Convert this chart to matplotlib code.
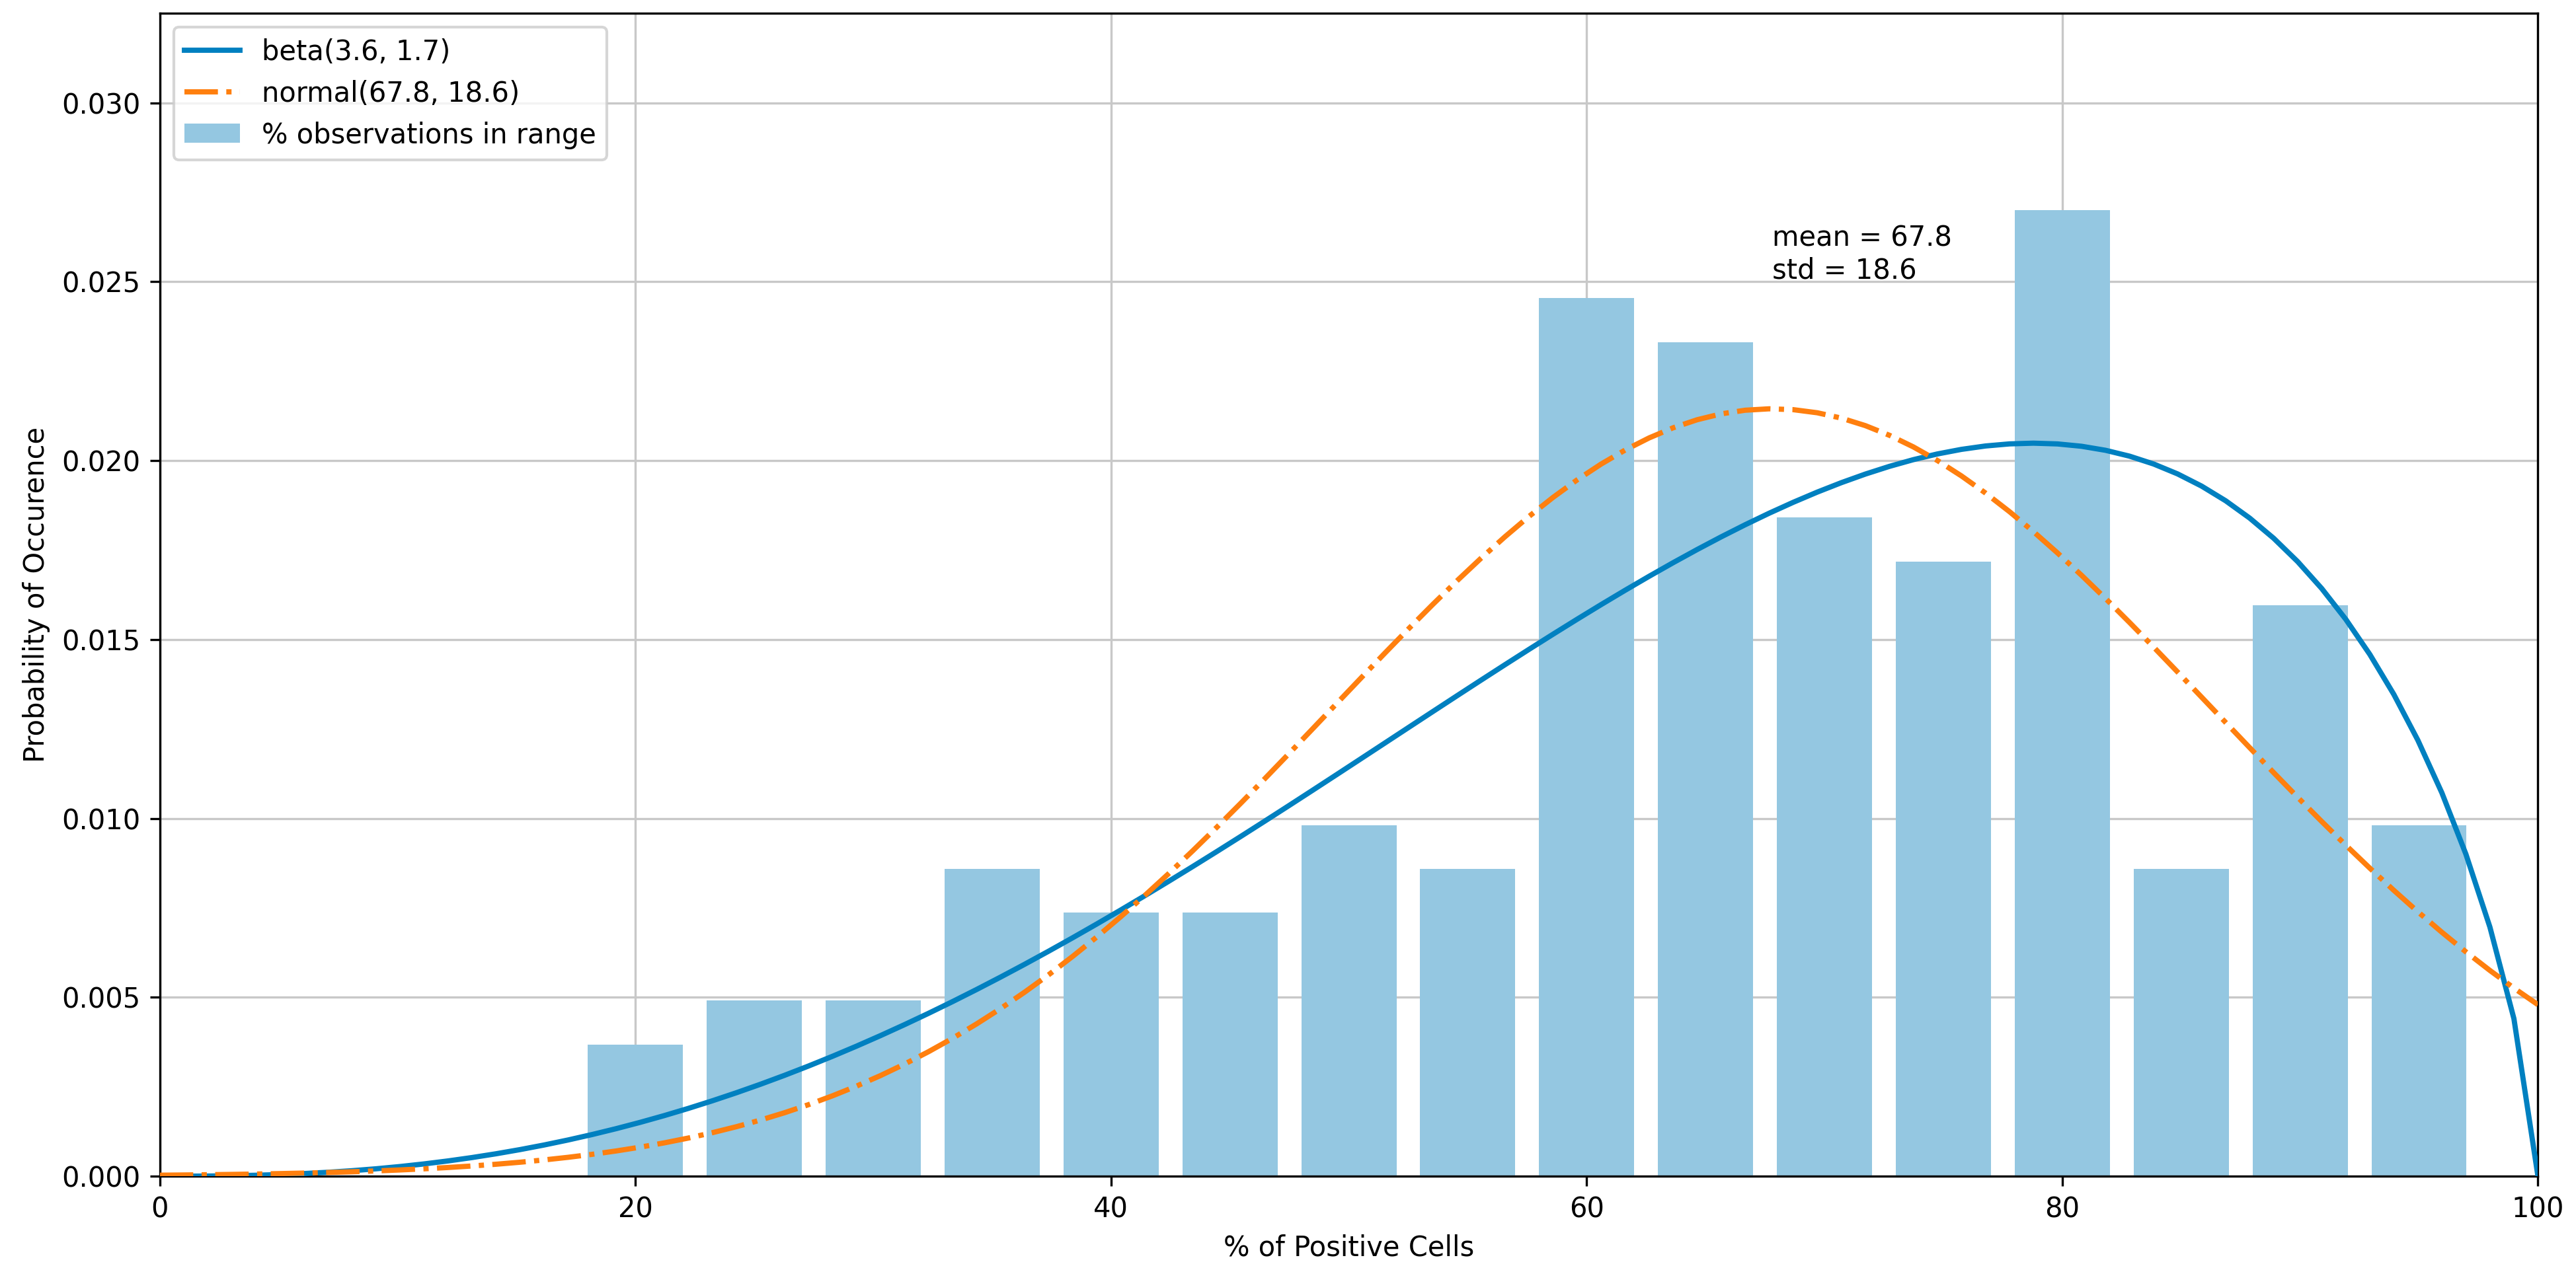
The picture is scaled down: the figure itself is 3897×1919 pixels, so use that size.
import math
import numpy as np
import matplotlib
matplotlib.use("Agg")
import matplotlib.pyplot as plt

# Histogram data (bin centres, density values = count / (163 * 5))
bin_centers = [20, 25, 30, 35, 40, 45, 50, 55, 60, 65, 70, 75, 80, 85, 90, 95]
bin_counts = [3, 4, 4, 7, 6, 6, 8, 7, 20, 19, 15, 14, 22, 7, 13, 8]
bin_width = 5
density = [c / (sum(bin_counts) * bin_width) for c in bin_counts]

# Fitted distribution parameters (from legend)
beta_a, beta_b = 3.6, 1.7
norm_mu, norm_sd = 67.8, 18.6

x = np.linspace(0, 100, 100)
u = x / 100.0
B = math.gamma(beta_a) * math.gamma(beta_b) / math.gamma(beta_a + beta_b)
beta_pdf = (u ** (beta_a - 1)) * ((1 - u) ** (beta_b - 1)) / B / 100.0
norm_pdf = np.exp(-0.5 * ((x - norm_mu) / norm_sd) ** 2) / (norm_sd * math.sqrt(2 * math.pi))

plt.rcParams['font.family'] = ['DejaVu Sans']
plt.rcParams['font.size'] = 10

fig = plt.figure(figsize=(12.993, 6.397), dpi=300)
ax = fig.add_axes([0.062, 0.0724, 0.923, 0.917])

ax.bar(bin_centers, density, width=4, color='#94c7e1', label='% observations in range', zorder=2)
ax.plot(x, beta_pdf, color='#0080c0', lw=1.9, label='beta(3.6, 1.7)', zorder=3)
ax.plot(x, norm_pdf, color='#ff7f0e', lw=1.9, ls='-.', label='normal(67.8, 18.6)', zorder=3)

ax.text(67.8, 0.0251, 'mean = 67.8\nstd = 18.6', fontsize=10, va='baseline', ha='left')

ax.set_xlim(0, 100)
ax.set_ylim(0, 0.0325)
ax.set_yticks([0, 0.005, 0.01, 0.015, 0.02, 0.025, 0.03])
ax.set_xlabel('% of Positive Cells')
ax.set_ylabel('Probability of Occurence')
ax.grid(True, color='#c8c8c8', lw=0.8, zorder=0)
ax.set_axisbelow(True)
ax.legend(loc='upper left')

fig.savefig('out.png', dpi=300)
